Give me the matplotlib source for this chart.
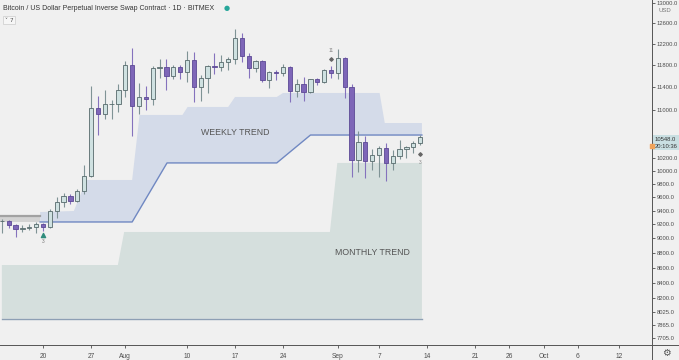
import matplotlib
matplotlib.use("Agg")
import matplotlib.pyplot as plt
import matplotlib.dates as mdates
from matplotlib.lines import Line2D
from matplotlib.ticker import NullLocator, FixedLocator
import pandas as pd
import numpy as np

# daily candles, 14 Jul - 13 Sep 2020
dates = pd.date_range("2020-07-14", "2020-09-13", freq="D")
opens = [9247, 9250, 9190, 9130, 9155, 9170, 9210, 9160, 9390, 9530, 9610, 9545, 9700,
         9930, 11030, 10930, 11100, 11110, 11350, 11800, 11070, 11230, 11190, 11750, 11770,
         11600, 11760, 11680, 11890, 11400, 11570, 11780, 11770, 11860, 11910, 12300, 11970,
         11750, 11870, 11530, 11680, 11650, 11770, 11330, 11460, 11320, 11540, 11500, 11700,
         11660, 11930, 11400, 10170, 10470, 10160, 10250, 10370, 10130, 10230, 10350, 10390,
         10440]
closes = [9255, 9190, 9130, 9155, 9170, 9210, 9160, 9390, 9530, 9610, 9545, 9700, 9930,
          11030, 10930, 11100, 11110, 11350, 11800, 11070, 11230, 11190, 11750, 11770, 11600,
          11760, 11680, 11890, 11400, 11570, 11780, 11770, 11860, 11910, 12300, 11970, 11750,
          11870, 11530, 11680, 11650, 11770, 11330, 11460, 11320, 11540, 11500, 11700, 11660,
          11930, 11400, 10170, 10470, 10160, 10250, 10370, 10130, 10230, 10350, 10390, 10440,
          10548]
highs = [9275, 9265, 9210, 9185, 9200, 9235, 9225, 9420, 9600, 9660, 9640, 9730, 10100,
         11420, 11250, 11340, 11180, 11450, 11880, 12120, 11480, 11420, 11790, 11910, 11920,
         11800, 11800, 12070, 12050, 11620, 11800, 12030, 11980, 11940, 12480, 12400, 12020,
         11890, 11890, 11690, 11710, 11820, 11780, 11540, 11590, 11550, 11570, 11730, 11780,
         12090, 11950, 11460, 10650, 10570, 10350, 10400, 10440, 10340, 10500, 10400, 10480,
         10580]
lows = [9080, 9150, 9020, 9090, 9125, 9080, 9110, 9145, 9290, 9460, 9500, 9530, 9650,
        9900, 10580, 10850, 10850, 10960, 11220, 10560, 10930, 11000, 11090, 11570, 11350,
        11540, 11540, 11500, 11140, 11150, 11290, 11640, 11690, 11700, 11820, 11860, 11570,
        11680, 11500, 11390, 11530, 11600, 11130, 11230, 11160, 11290, 11440, 11480, 11560,
        11540, 11200, 9900, 9990, 9890, 10020, 9900, 9850, 10010, 10190, 10200, 10280,
        10420]

# weekly trend band (polygon: upper edge, lower edge)
wk_up_dates = ["2020-07-19 14:00", "2020-07-24 12:00", "2020-07-26 08:00", "2020-08-02 00:00",
               "2020-08-03 02:00", "2020-08-09 08:00", "2020-08-10 02:00", "2020-08-16 00:00",
               "2020-08-17 00:00", "2020-08-23 02:00", "2020-08-24 00:00", "2020-09-07 02:00",
               "2020-09-07 20:00", "2020-09-13 06:00"]
wk_up_vals = [9380, 9395, 9861, 9861, 10915, 10915, 11052, 11052, 11226, 11226, 11296,
              11296, 10778, 10778]
wk_lo_dates = ["2020-07-19 14:00", "2020-08-02 00:00", "2020-08-07 02:00", "2020-08-23 02:00",
               "2020-08-28 00:00", "2020-09-13 06:00"]
wk_lo_vals = [9235, 9235, 10127, 10127, 10578, 10578]

# previous weekly zone (grey strip on the left)
grey_dates = ["2020-07-13 12:00", "2020-07-19 14:00"]
grey_top = [9321, 9321]
grey_bot = [9235, 9235]

# monthly trend band
mo_up_dates = ["2020-07-14 00:00", "2020-07-30 22:00", "2020-07-31 20:00", "2020-08-30 20:00",
               "2020-08-31 22:00", "2020-09-13 06:00"]
mo_up_vals = [8635, 8635, 9092, 9092, 10127, 10127]
mo_bottom = 7940

y_ticks = [13000, 12600, 12200, 11800, 11400, 11000, 10200, 10000, 9800, 9600, 9400, 9200,
           9000, 8800, 8600, 8400, 8200, 8025, 7865, 7705]
x_tick_dates = ["2020-07-20", "2020-07-27", "2020-08-01", "2020-08-10", "2020-08-17",
                "2020-08-24", "2020-09-01", "2020-09-07", "2020-09-14", "2020-09-21",
                "2020-09-26", "2020-10-01", "2020-10-06", "2020-10-12"]
x_tick_labels = ["20", "27", "Aug", "10", "17", "24", "Sep", "7", "14", "21", "26", "Oct",
                 "6", "12"]

plt.rcParams['font.family'] = ['Liberation Sans', 'DejaVu Sans']
bg = '#f0f0f0'
txt = '#4d4d4d'

fig = plt.figure(figsize=(6.79, 3.6), dpi=100)
fig.patch.set_facecolor(bg)
ax = fig.add_axes([0, 15 / 360, 652 / 679, 345 / 360])
ax.set_facecolor(bg)
ax.set_yscale('log')

def dn(lst):
    return mdates.date2num(pd.to_datetime(lst, format='mixed'))

# monthly band
mx = dn(mo_up_dates)
ax.fill(np.r_[mx, mx[::-1]], np.r_[mo_up_vals, [mo_bottom] * len(mx)],
        color='#d5dfdd', lw=0, zorder=1)
ax.plot([mx[0], mx[-1]], [mo_bottom, mo_bottom], color='#8d9fb4', lw=1.0, zorder=2)

# weekly band
ux, lx = dn(wk_up_dates), dn(wk_lo_dates)
ax.fill(np.r_[ux, lx[::-1]], np.r_[wk_up_vals, wk_lo_vals[::-1]],
        color='#d4dbe9', lw=0, zorder=1)
ax.plot(lx, wk_lo_vals, color='#7088c2', lw=1.0, zorder=2)

gx = dn(grey_dates)
ax.fill_between(gx, grey_bot, grey_top, color='#d3d3d3', lw=0, zorder=1)
ax.plot(gx, grey_top, color='#a2a2a2', lw=1.6, zorder=2)

ax.text(dn(["2020-08-17"])[0], 10620, "WEEKLY TREND", ha='center', va='center',
        fontsize=6.3, color='#555555', zorder=3)
ax.text(dn(["2020-09-06"])[0], 8800, "MONTHLY TREND", ha='center', va='center',
        fontsize=6.3, color='#555555', zorder=3)

# candles
xd = dn(dates)
o, c, h, l = map(np.array, (opens, closes, highs, lows))
up = c >= o
wick_col = np.where(up, '#7f9395', '#8572bd')
ax.vlines(xd, l, h, colors=wick_col, lw=0.8, zorder=4)
body_lo = np.minimum(o, c)
body_h = np.maximum(np.abs(c - o), 8)
ax.bar(xd[up], body_h[up], bottom=body_lo[up], width=0.62, color='#cfe1e1',
       edgecolor='#56696b', lw=0.6, zorder=5)
ax.bar(xd[~up], body_h[~up], bottom=body_lo[~up], width=0.62, color='#7e66b8',
       edgecolor='#5c4995', lw=0.6, zorder=5)

# small signal markers
i20 = list(dates).index(pd.Timestamp("2020-07-20"))
ax.scatter(xd[i20], l[i20] * 0.994, marker='^', s=9, color='#2f8c7c', zorder=6)
ax.text(xd[i20], l[i20] * 0.983, "3", fontsize=3.5, color='#777777', ha='center',
        va='center')
i31 = list(dates).index(pd.Timestamp("2020-08-31"))
ax.scatter(xd[i31], h[i31] * 1.011, marker='D', s=3, color='#666666', zorder=6)
ax.text(xd[i31], h[i31] * 1.024, "11", fontsize=3.5, color='#888888', ha='center',
        va='center')
ax.scatter(xd[-1], l[-1] * 0.986, marker='D', s=3, color='#666666', zorder=6)
ax.text(xd[-1], l[-1] * 0.973, "3", fontsize=3.5, color='#888888', ha='center',
        va='center')

# axes
x0 = mdates.date2num(pd.Timestamp("2020-07-20"))
ax.set_xlim(x0 - 6.27, x0 + 88.8)
ax.set_ylim(7621, 13061)
ax.yaxis.tick_right()
ax.yaxis.set_major_locator(FixedLocator(y_ticks))
ax.yaxis.set_minor_locator(NullLocator())
ax.set_yticklabels([f"{v:.1f}" for v in y_ticks])
ax.set_xticks(dn(x_tick_dates))
ax.set_xticklabels(x_tick_labels)
ax.xaxis.set_minor_locator(NullLocator())
ax.tick_params(axis='y', labelsize=4.2, colors=txt, length=2, width=0.6, pad=1.5,
               labelcolor=txt)
ax.tick_params(axis='x', labelsize=4.8, colors=txt, length=2, width=0.6, pad=4,
               labelcolor=txt)
for s in ('top', 'left'):
    ax.spines[s].set_visible(False)
for s in ('right', 'bottom'):
    ax.spines[s].set_color('#555555')
    ax.spines[s].set_linewidth(0.7)

# extend axis lines to the figure edges
fig.add_artist(Line2D([652 / 679, 1], [15 / 360, 15 / 360], color='#555555', lw=0.7))
fig.add_artist(Line2D([652 / 679, 652 / 679], [0, 15 / 360], color='#555555', lw=0.7))

# current price tag
ax.text(1.004, c[-1], "10548.0\n20:10:36", transform=ax.get_yaxis_transform(),
        fontsize=4.2, color='#333333', ha='left', va='top', linespacing=1.5,
        bbox=dict(boxstyle='square,pad=0.25', fc='#c9dfe2', ec='none'), zorder=10,
        clip_on=False)
ax.scatter([1.0], [c[-1] * 0.986], transform=ax.get_yaxis_transform(), marker='s', s=6,
           color='#f0a35a', zorder=11, clip_on=False)

fig.text(665 / 679, 1 - 11 / 360, "USD", fontsize=4.3, color='#777777', ha='center',
         va='center')
fig.text(666 / 679, 7 / 360, "\u2699", fontsize=7, color='#555555', ha='center',
         va='center', family='DejaVu Sans')

# header
fig.text(3 / 679, 1 - 8 / 360,
         "Bitcoin / US Dollar Perpetual Inverse Swap Contract \u00b7 1D \u00b7 BITMEX",
         fontsize=5.0, color='#333333', ha='left', va='center')
fig.text(227 / 679, 1 - 8 / 360, "\u25cf", fontsize=5, color='#26a69a', ha='center',
         va='center', family='DejaVu Sans')
fig.text(5 / 679, 1 - 20 / 360, "\u02c5 7", fontsize=4.2, color='#555555', ha='left',
         va='center', family='DejaVu Sans',
         bbox=dict(boxstyle='square,pad=0.3', fc='#f6f6f6', ec='#cccccc', lw=0.5))

fig.savefig("out.png", dpi=100, facecolor=bg)
